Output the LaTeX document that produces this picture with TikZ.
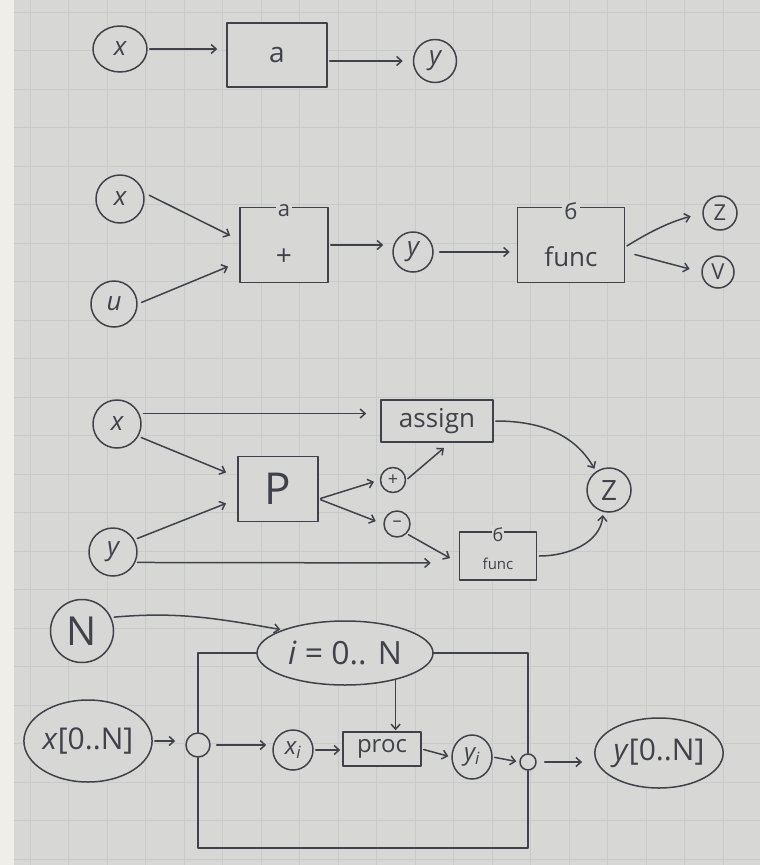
\documentclass[tikz,border=0pt]{standalone}
\usepackage{fontspec}
\setmainfont{Open Sans}
\usetikzlibrary{arrows.meta,shapes.geometric,calc}
\definecolor{paper}{HTML}{D7D7D5}
\definecolor{gridc}{HTML}{C9CBCB}
\definecolor{margin}{HTML}{F0EEE8}
\definecolor{ink}{HTML}{40414A}
\newcommand{\hfs}[1]{\fontsize{#1}{#1}\selectfont}
\tikzset{
 inkline/.style={draw=ink, line width=1.5pt, line cap=round, line join=round},
 arr/.style={inkline, -{Straight Barb[length=5pt,width=9pt]}, shorten >=3pt, shorten <=2pt},
 var/.style={circle, inkline, fill=paper, inner sep=0pt, text=ink, font=\hfs{26}\itshape},
 blk/.style={rectangle, inkline, fill=paper, inner sep=0pt, text=ink, font=\hfs{26}},
 oval/.style={ellipse, inkline, fill=paper, inner sep=0pt, text=ink, font=\hfs{30}},
 tag/.style={fill=paper, inner sep=2pt, text=ink, font=\hfs{22}},
 lbl/.style={inner sep=0pt, text=ink},
 jn/.style={circle, inkline, fill=paper, inner sep=0pt},
}
\begin{document}
\begin{tikzpicture}[x=1pt,y=1pt]
\useasboundingbox (0,0) rectangle (760,-865);
\fill[paper] (0,0) rectangle (760,-865);
\foreach \gx in {30,68.5,...,760} \draw[gridc,line width=0.7pt] (\gx,0) -- (\gx,-865);
\foreach \gy in {12,50.5,...,865} \draw[gridc,line width=0.7pt] (14,-\gy) -- (760,-\gy);
\fill[margin] (0,0) rectangle (14,-865);

% ---------- row 1 ----------
\node[var, ellipse, minimum width=54pt, minimum height=46pt] (r1x) at (120,-49) {x};
\node[blk, minimum width=100pt, minimum height=64pt, font=\hfs{28}] (r1a) at (277,-55) {a};
\node[var, minimum size=43pt] (r1y) at (435,-61) {y};
\draw[arr, shorten >=9pt] (r1x.east) -- (r1x.east -| r1a.west);
\draw[arr, shorten >=10pt] (r1a.east |- r1y) -- (r1y.west);

% ---------- row 2 ----------
\node[var, minimum size=48pt] (r2x) at (120,-199) {x};
\node[var, minimum size=46pt] (r2u) at (114,-304) {u};
\node[blk, minimum width=88pt, minimum height=75pt] (r2a) at (284,-245) {};
\node[tag] (r2al) at ([yshift=-4pt]r2a.north) {a};
\node[lbl, font=\hfs{28}] (r2ap) at ([yshift=-12pt]r2a.center) {+};
\node[var, minimum size=40pt] (r2y) at (413,-252) {y};
\node[blk, minimum width=107pt, minimum height=75pt] (r2b) at (571,-245) {};
\node[tag] (r2bl) at ([yshift=-4pt]r2b.north) {б};
\node[lbl, font=\hfs{26}] (r2bf) at ([yshift=-12pt]r2b.center) {func};
\node[var, minimum size=34pt, font=\hfs{22}] (r2z) at (720,-213) {Z};
\node[var, minimum size=32pt, font=\hfs{22}] (r2v) at (718,-272) {V};
\draw[arr, shorten <=6pt, shorten >=10pt] (r2x.15) -- ([yshift=5pt]r2a.west);
\draw[arr, shorten <=4pt, shorten >=12pt] (r2u.east) -- ([yshift=-17pt]r2a.west);
\draw[arr, shorten >=9pt] (r2a.east) -- (r2a.east -| r2y.west);
\draw[arr, shorten >=7pt, shorten <=6pt] (r2y.east) -- (r2y.east -| r2b.west);
\draw[arr, shorten >=12pt] ([yshift=-2pt]r2b.east) to[bend left=8] (r2z.west);
\draw[arr, shorten <=10pt, shorten >=12pt] ([yshift=-7pt]r2b.east) -- (r2v.west);

% ---------- row 3 ----------
\node[var, minimum size=48pt] (r3x) at (117,-424) {x};
\node[var, minimum size=48pt] (r3y) at (113,-552) {y};
\node[blk, minimum width=80pt, minimum height=65pt, font=\hfs{44}] (r3p) at (278,-489) {P};
\node[blk, minimum width=112pt, minimum height=42pt] (r3as) at (437,-421) {assign};
\node[var, minimum size=25pt, font=\hfs{18}] (r3pl) at (393,-480) {+};
\node[var, minimum size=26pt, font=\hfs{18}] (r3mi) at (397,-524) {–};
\node[var, minimum size=44pt, font=\hfs{28}] (r3z) at (609,-490) {Z};
\node[blk, minimum width=77pt, minimum height=48pt] (r3f) at (498,-556) {};
\node[tag, font=\hfs{18}, inner sep=1pt] (r3fl) at ([yshift=-3pt]r3f.north) {б};
\node[lbl, font=\hfs{15}] (r3ff) at ([yshift=-8pt]r3f.center) {func};
\draw[arr, shorten >=14pt, shorten <=4pt] (r3x.25) -- (r3x.25 -| r3as.west);
\draw[arr, shorten >=12pt, shorten <=3pt] (r3x.-30) -- ([yshift=12pt]r3p.west);
\draw[arr, shorten >=12pt, shorten <=3pt] (r3y.30) -- ([yshift=-10pt]r3p.west);
\draw[arr, shorten >=28pt] (r3y.-25) -- ([yshift=-7pt]r3f.west);
\draw[arr, shorten >=6pt] ([yshift=-10pt]r3p.east) -- (r3pl.west);
\draw[arr, shorten >=8pt] ([yshift=-10pt]r3p.east) -- (r3mi.west);
\draw[arr, shorten >=8pt] (r3pl.east) -- ([xshift=13pt]r3as.south);
\draw[arr, shorten >=10pt] (r3mi.-45) -- ([yshift=-7pt]r3f.west);
\draw[arr] (r3as.east) to[out=0,in=120] (r3z.125);
\draw[arr] (r3f.east) to[out=0,in=-95] (r3z.-105);

% ---------- row 4 ----------
\node[var, minimum size=63pt, font=\hfs{40}\upshape] (r4n) at (82,-631) {N};
\node[oval, minimum width=176pt, minimum height=64pt, font=\hfs{32}] (r4loop) at (345,-653) {\textit{i} = 0.. N};
\node[oval, minimum width=110pt, minimum height=82pt] (r4xa) at (88,-741) {\textit{x}[0..N]};
\node[jn, minimum size=24pt] (r4j1) at (198,-745) {};
\node[var, minimum size=40pt, font=\hfs{24}\itshape] (r4xi) at (293,-750) {x\textsubscript{i}};
\node[blk, minimum width=78pt, minimum height=34pt, font=\hfs{24}] (r4pr) at (382,-749) {proc};
\node[var, ellipse, minimum width=40pt, minimum height=44pt, font=\hfs{24}\itshape] (r4yi) at (472,-757) {y\textsubscript{i}};
\node[jn, minimum size=16pt] (r4j2) at (528,-762) {};
\node[oval, minimum width=112pt, minimum height=70pt] (r4ya) at (659,-753) {\textit{y}[0..N]};
\coordinate (r4b) at (0,-848);
\draw[arr, shorten >=2pt, shorten <=3pt] (r4n.25) to[out=5,in=170] (r4loop.north west);
\draw[inkline] (r4loop.west) -| (r4j1.north);
\draw[inkline] (r4j1.south) -- (r4j1.south |- r4b) -| (r4j2.south);
\draw[inkline] (r4loop.east) -| (r4j2.north);
\draw[arr, shorten <=0pt, shorten >=1pt] (r4loop.-28) -- (r4loop.-28 |- r4pr.north);
\draw[arr, shorten >=10pt] (r4xa.east) -- (r4xa.east -| r4j1.west);
\draw[arr, shorten <=6pt, shorten >=6pt] (r4j1.east) -- (r4j1.east -| r4xi.west);
\draw[arr, shorten >=2pt] (r4xi.east) -- (r4xi.east -| r4pr.west);
\draw[arr, shorten >=3pt] (r4pr.east) -- (r4yi.west);
\draw[arr, shorten >=3pt] (r4yi.east) -- (r4j2.west);
\draw[arr, shorten <=8pt, shorten >=12pt] (r4j2.east) -- (r4j2.east -| r4ya.west);
\end{tikzpicture}
\end{document}
